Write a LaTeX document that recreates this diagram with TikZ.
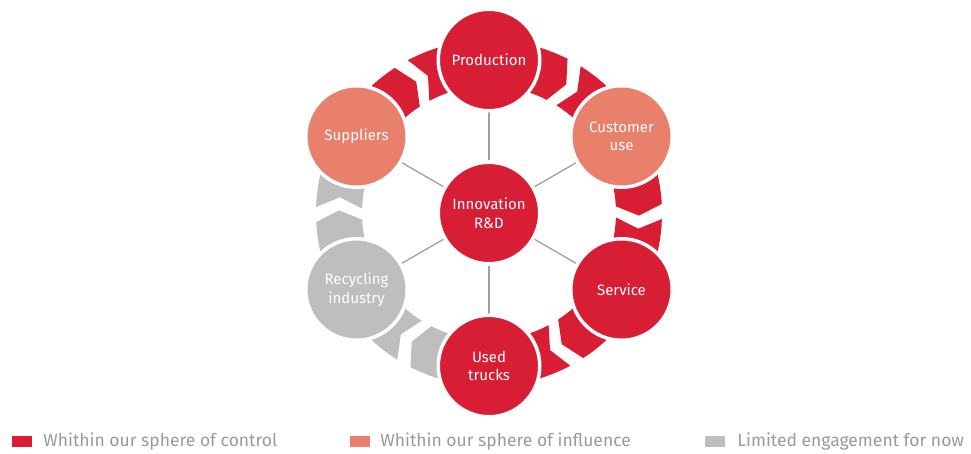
\documentclass[tikz,border=0pt]{standalone}
\usepackage{fontspec}
\setmainfont{Fira Sans}
\usepackage{xcolor}
\usetikzlibrary{calc, positioning, backgrounds}

\definecolor{ctrlred}{HTML}{D81E34}
\definecolor{inflsalmon}{HTML}{E8806C}
\definecolor{limgray}{HTML}{BEBEBE}
\definecolor{keytext}{HTML}{9A9A9A}
\definecolor{spokegray}{HTML}{A0A0A0}

\begin{document}
\begin{tikzpicture}[x=1pt,y=1pt,
                    stage node/.style={circle,minimum size=101.5pt,inner sep=0pt,draw=white,line width=3.5pt,
                                       text=white,align=center,font=\fontsize{15}{18.5}\selectfont},
                    key box/.style={minimum width=20pt,minimum height=11pt,inner sep=0pt},
                    key text/.style={inner sep=0pt,text=keytext,text height=12pt,text depth=1pt,
                                     font=\fontsize{17.5}{20}\selectfont}]

  \useasboundingbox (0,0) rectangle (971,453);
  \coordinate (C) at (489,240);

  \node[stage node,fill=ctrlred]    (innov) at (C) {Innovation\\R\&D};
  \node[stage node,fill=ctrlred]    (prod)  at ($(C)+(90:153pt)$)  {Production};
  \node[stage node,fill=inflsalmon] (cust)  at ($(C)+(30:153pt)$)  {Customer\\use};
  \node[stage node,fill=ctrlred]    (serv)  at ($(C)+(-30:153pt)$) {Service};
  \node[stage node,fill=ctrlred]    (used)  at ($(C)+(-90:153pt)$) {Used\\trucks};
  \node[stage node,fill=limgray]    (recyc) at ($(C)+(210:153pt)$) {Recycling\\industry};
  \node[stage node,fill=inflsalmon] (supp)  at ($(C)+(150:153pt)$) {Suppliers};

  \begin{scope}[on background layer]
    \path[draw=spokegray,line width=1.3pt]
      (innov) edge (prod)
              edge (cust)
              edge (serv)
              edge (used)
              edge (recyc)
              edge (supp);

    % two chevrons between each pair of neighbours, running clockwise
    \begin{scope}[shift={(C)}]
      \foreach \m/\col in {120/ctrlred, 60/ctrlred, 0/ctrlred, -60/ctrlred, -120/limgray, 180/limgray}{
        \fill[\col] (\m+30:173pt) arc[start angle=\m+30, end angle=\m+3, radius=173pt]
          -- (\m-1:150pt) -- (\m+3:127pt)
          arc[start angle=\m+3, end angle=\m+30, radius=127pt] -- cycle;
        \fill[\col] (\m-2:173pt) arc[start angle=\m-2, end angle=\m-30, radius=173pt]
          -- (\m-30:127pt)
          arc[start angle=\m-30, end angle=\m-2, radius=127pt] -- (\m-6:150pt) -- cycle;
      }
    \end{scope}
  \end{scope}

  % legend
  \node[key box,fill=ctrlred]    (ctrlkey) at (22,12)  {};
  \node[key text,right=11pt of ctrlkey] (ctrltext) {Whithin our sphere of control};
  \node[key box,fill=inflsalmon] (inflkey) at (360,12) {};
  \node[key text,right=10pt of inflkey] (infltext) {Whithin our sphere of influence};
  \node[key box,fill=limgray]    (limkey)  at (715,12) {};
  \node[key text,right=12pt of limkey] (limtext) {Limited engagement for now};

\end{tikzpicture}
\end{document}
